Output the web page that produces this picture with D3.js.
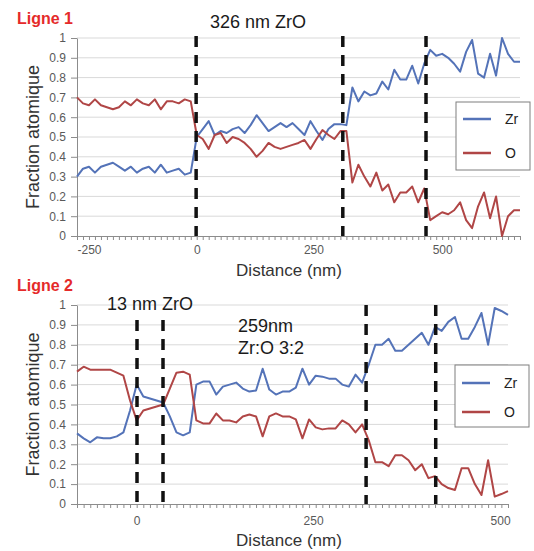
<!DOCTYPE html>
<html>
<head>
<meta charset="utf-8">
<script src="https://cdn.jsdelivr.net/npm/d3@7"></script>
<style>
  body { margin: 0; background: #fff; }
  text { font-family: "Liberation Sans", Arial, sans-serif; }
</style>
</head>
<body>
<div id="chart"></div>
<script>
// Ligne 1 - fractions atomiques le long du profil
let zr1 = [0.30, 0.34, 0.35, 0.32, 0.35, 0.36, 0.37, 0.35, 0.33, 0.35, 0.32, 0.34, 0.35, 0.32, 0.36, 0.32, 0.33, 0.34, 0.31, 0.32,
  0.50, 0.54, 0.58, 0.51, 0.53, 0.52, 0.54, 0.55, 0.52, 0.56, 0.61, 0.57, 0.53, 0.55, 0.57, 0.55, 0.57, 0.54, 0.51, 0.58,
  0.53, 0.485, 0.54, 0.565, 0.565, 0.56,
  0.75, 0.68, 0.73, 0.71, 0.72, 0.78, 0.74, 0.84, 0.79, 0.79, 0.86, 0.77, 0.87,
  0.94, 0.91, 0.92, 0.90, 0.87, 0.83, 0.93, 0.99, 0.82, 0.80, 0.92, 0.81, 1.0, 0.92, 0.88, 0.88];
let o1 = [0.70, 0.67, 0.66, 0.69, 0.66, 0.65, 0.64, 0.65, 0.68, 0.66, 0.69, 0.67, 0.66, 0.69, 0.64, 0.68, 0.68, 0.67, 0.69, 0.68,
  0.51, 0.49, 0.44, 0.51, 0.52, 0.47, 0.50, 0.49, 0.47, 0.44, 0.40, 0.43, 0.47, 0.45, 0.44, 0.45, 0.46, 0.47, 0.485, 0.44,
  0.49, 0.535, 0.51, 0.49, 0.53, 0.53,
  0.27, 0.36, 0.30, 0.25, 0.32, 0.23, 0.26, 0.17, 0.22, 0.22, 0.25, 0.17, 0.24,
  0.08, 0.10, 0.12, 0.11, 0.13, 0.17, 0.08, 0.04, 0.15, 0.22, 0.09, 0.20, 0.0, 0.10, 0.13, 0.13];
let xLabels1 = ['-250', '0', '250', '500'];
let xLabelAt1 = [2, 20, 39.5, 61];   // position (index du point) de chaque étiquette
let bounds1 = [19.9, 44.4, 58.3];    // interfaces (pointillés)

// Ligne 2
let zr2 = [0.355, 0.33, 0.31, 0.335, 0.33, 0.33, 0.34, 0.36, 0.47, 0.60, 0.54, 0.53, 0.52, 0.51, 0.44, 0.36, 0.345, 0.36,
  0.60, 0.615, 0.615, 0.55, 0.59, 0.60, 0.61, 0.58, 0.565, 0.57, 0.68, 0.575, 0.55, 0.565, 0.565, 0.585, 0.68, 0.60,
  0.645, 0.64, 0.63, 0.63, 0.60, 0.59, 0.65, 0.61,
  0.70, 0.80, 0.80, 0.83, 0.77, 0.77, 0.80, 0.83, 0.86, 0.80, 0.89, 0.87, 0.915, 0.94, 0.83, 0.83, 0.89, 0.96, 0.80,
  0.985, 0.97, 0.95];
let o2 = [0.665, 0.69, 0.675, 0.675, 0.675, 0.675, 0.66, 0.645, 0.52, 0.42, 0.47, 0.48, 0.49, 0.50, 0.58, 0.66, 0.665, 0.65,
  0.42, 0.405, 0.405, 0.455, 0.42, 0.42, 0.41, 0.44, 0.45, 0.44, 0.34, 0.44, 0.455, 0.44, 0.44, 0.425, 0.33, 0.425,
  0.385, 0.375, 0.38, 0.38, 0.42, 0.40, 0.36, 0.40,
  0.32, 0.21, 0.21, 0.19, 0.245, 0.245, 0.22, 0.17, 0.20, 0.13, 0.14, 0.10, 0.08, 0.07, 0.18, 0.18, 0.10, 0.045, 0.22,
  0.037, 0.05, 0.065];
let xLabels2 = ['0', '250', '500'];
let xLabelAt2 = [9, 35.6, 63.8];
let bounds2 = [9.05, 12.97, 43.6, 54.1];

let yTicks = [0, 0.1, 0.2, 0.3, 0.4, 0.5, 0.6, 0.7, 0.8, 0.9, 1];
let seriesNames = ['Zr', 'O'];

let width = 534,
  height = 551;

let color = d3.scaleOrdinal()
  .domain(seriesNames)
  .range(['#5473b8', '#b04646']);

const svg = d3.select('#chart').append('svg')
  .attr('width', width)
  .attr('height', height);

svg.append('rect').attr('width', width).attr('height', height).attr('fill', '#fff');

function panel(cfg) {
  const n = cfg.zr.length;
  const x = d3.scaleLinear().domain([0, n - 1]).range([77, cfg.right]);
  const y = d3.scaleLinear().domain([0, 1]).range([cfg.bottom, cfg.top]);
  const g = svg.append('g');

  // grille horizontale
  g.selectAll('line.grid')
    .data(yTicks.filter(d => d > 0))
    .enter().append('line')
    .attr('x1', 77).attr('x2', cfg.right)
    .attr('y1', d => y(d)).attr('y2', d => y(d))
    .attr('stroke', '#d9d9d9').attr('stroke-width', 1);

  // axe Y
  const ya = g.append('g')
    .attr('transform', 'translate(77,0)')
    .call(d3.axisLeft(y).tickValues(yTicks).tickSize(6).tickSizeOuter(0).tickPadding(5)
      .tickFormat(d => String(d)));
  ya.selectAll('line, path').attr('stroke', '#8c8c8c');
  ya.selectAll('text').attr('fill', '#595959').style('font-size', '12px')
    .style('font-family', '"Liberation Sans", Arial, sans-serif');

  // axe X : une graduation par point
  const xa = g.append('g')
    .attr('transform', `translate(0,${cfg.bottom})`)
    .call(d3.axisBottom(x).tickValues(d3.range(n)).tickSize(4).tickSizeOuter(0).tickFormat(''));
  xa.selectAll('line, path').attr('stroke', '#8c8c8c');

  const xl = g.append('g')
    .attr('transform', `translate(0,${cfg.bottom})`)
    .call(d3.axisBottom(x).tickValues(cfg.labelAt).tickSize(0).tickPadding(cfg.labelPad)
      .tickFormat((d, i) => cfg.labels[i]));
  xl.select('.domain').remove();
  xl.selectAll('text').attr('fill', '#595959').style('font-size', '12px')
    .style('font-family', '"Liberation Sans", Arial, sans-serif');

  // courbes
  const line = d3.line()
    .x((d, i) => x(i))
    .y(d => y(d));

  [cfg.zr, cfg.o].forEach((s, k) => {
    g.append('path')
      .datum(s)
      .attr('fill', 'none')
      .attr('stroke', color(seriesNames[k]))
      .attr('stroke-width', 2)
      .attr('stroke-linejoin', 'round')
      .attr('d', line);
  });

  // interfaces en pointillés
  g.selectAll('line.bound')
    .data(cfg.bounds)
    .enter().append('line')
    .attr('x1', d => x(d)).attr('x2', d => x(d))
    .attr('y1', (d, i) => cfg.dashTop[i]).attr('y2', cfg.bottom)
    .attr('stroke', '#111').attr('stroke-width', 3.5)
    .attr('stroke-dasharray', '11,8');

  // légende
  const lg = g.append('g').attr('transform', `translate(${cfg.legend[0]},${cfg.legend[1]})`);
  lg.append('rect')
    .attr('width', 74).attr('height', cfg.legend[2])
    .attr('fill', '#fff').attr('stroke', '#7f7f7f').attr('stroke-width', 1);
  seriesNames.forEach((s, k) => {
    const yy = cfg.legend[3] + k * cfg.legend[4];
    lg.append('line')
      .attr('x1', 7).attr('x2', 35).attr('y1', yy).attr('y2', yy)
      .attr('stroke', color(s)).attr('stroke-width', 2.5);
    lg.append('text')
      .attr('x', 49).attr('y', yy).attr('dy', '0.35em')
      .attr('fill', '#222').style('font-size', '14px')
      .text(s);
  });

  // titres
  g.append('text')
    .attr('x', 17).attr('y', cfg.top - 14)
    .attr('fill', '#e52a2a').style('font-size', '16px').style('font-weight', 'bold')
    .text(cfg.title);

  g.append('text')
    .attr('transform', `translate(39,${(cfg.top + cfg.bottom) / 2}) rotate(-90)`)
    .attr('text-anchor', 'middle')
    .attr('fill', '#333').style('font-size', '18px')
    .text('Fraction atomique');

  g.append('text')
    .attr('x', 289).attr('y', cfg.bottom + cfg.titlePad)
    .attr('text-anchor', 'middle')
    .attr('fill', '#333').style('font-size', '17px')
    .text('Distance (nm)');

  cfg.notes.forEach(t => {
    g.append('text')
      .attr('x', t[0]).attr('y', t[1])
      .attr('fill', '#1a1a1a').style('font-size', '18px')
      .text(t[2]);
  });
}

panel({
  zr: zr1, o: o1, labels: xLabels1, labelAt: xLabelAt1, bounds: bounds1,
  top: 38, bottom: 236, right: 520, labelPad: 9, titlePad: 40,
  dashTop: [36, 36, 36],
  legend: [456, 102, 68, 17, 34],
  title: 'Ligne 1',
  notes: [[210, 28, '326 nm ZrO']]
});

panel({
  zr: zr2, o: o2, labels: xLabels2, labelAt: xLabelAt2, bounds: bounds2,
  top: 305, bottom: 504, right: 508, labelPad: 12, titlePad: 42,
  dashTop: [320, 320, 305, 305],
  legend: [455, 365, 62, 18, 29],
  title: 'Ligne 2',
  notes: [[107, 310, '13 nm ZrO'], [238, 332, '259nm'], [238, 354, 'Zr:O 3:2']]
});
</script>
</body>
</html>
